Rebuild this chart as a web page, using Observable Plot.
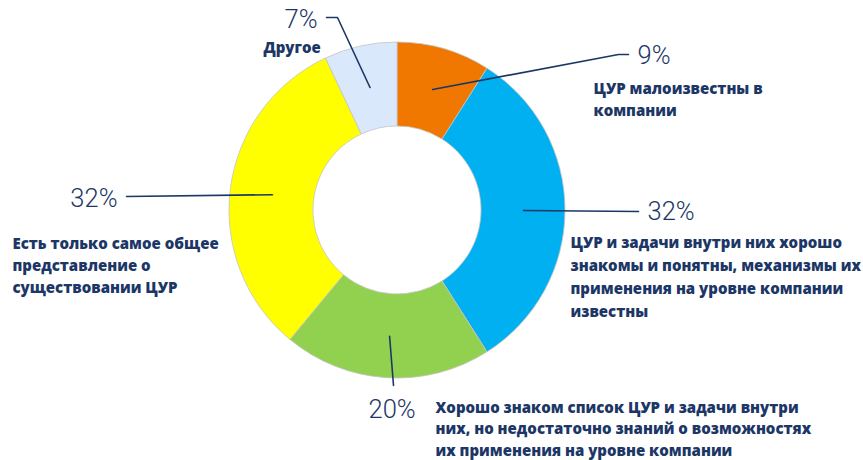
<!DOCTYPE html>
<html><head><meta charset="utf-8">
<script src="https://cdn.jsdelivr.net/npm/d3@7"></script>
<script src="https://cdn.jsdelivr.net/npm/@observablehq/plot@0.6"></script>
<style>html,body{margin:0;padding:0;background:#fff;}</style>
</head><body><div id="chart"></div>
<script>
// ---- data ----
const categories = [
  "ЦУР малоизвестны в\nкомпании",
  "ЦУР и задачи внутри них хорошо\nзнакомы и понятны, механизмы их\nприменения на уровне компании\nизвестны",
  "Хорошо знаком список ЦУР и задачи внутри\nних, но недостаточно знаний о возможностях\nих применения на уровне компании",
  "Есть только самое общее\nпредставление о\nсуществовании ЦУР",
  "Другое"
];
const values = [9, 32, 20, 32, 7];
const percentLabels = ["9%", "32%", "20%", "32%", "7%"];
const colors = ["#f07800", "#00b0f0", "#92d050", "#ffff00", "#dae8fc"];

// ---- layout ----
const W = 863, H = 460;
const center = [397, 210];
const outerR = 168, innerR = 84;
const navy = "#1c3766";
const leaderEnds = [
  [[618, 54], [628, 54]],
  [[638, 211]],
  [[393, 385]],
  [[126, 196]],
  [[337, 17], [326, 17]]
];
const pctPos = [
  {x: 637, y: 63, anchor: "start"},
  {x: 647, y: 219, anchor: "start"},
  {x: 368, y: 417, anchor: "start"},
  {x: 117, y: 206, anchor: "end"},
  {x: 317, y: 27, anchor: "end"}
];
const labelPos = [
  {x: 593, y: 93, lh: 22},
  {x: 570, y: 247, lh: 23},
  {x: 435, y: 412, lh: 21.5},
  {x: 12, y: 248, lh: 22},
  {x: 263, y: 52, lh: 22}
];

const table = categories.map((c, i) => ({category: c, value: values[i], pct: percentLabels[i], color: colors[i]}));
const arcs = d3.pie().sort(null).value(d => d.value)(table);
const arcGen = d3.arc().innerRadius(innerR).outerRadius(outerR);

const leaderRows = [];
arcs.forEach((a, i) => {
  const [dx, dy] = arcGen.centroid(a);
  leaderRows.push({i, x: center[0] + dx, y: center[1] + dy});
  leaderEnds[i].forEach(([x, y]) => leaderRows.push({i, x, y}));
});

const pctRows = table.map((d, i) => ({text: d.pct, ...pctPos[i]}));
const labelRows = [];
table.forEach((d, i) => {
  d.category.split("\n").forEach((line, j) => {
    labelRows.push({text: line, x: labelPos[i].x, y: labelPos[i].y + j * labelPos[i].lh});
  });
});

function donut(index, scales) {
  const cx = scales.x(center[0]), cy = scales.y(center[1]);
  const k = scales.x(1) - scales.x(0);
  const arc = d3.arc().innerRadius(innerR * k).outerRadius(outerR * k);
  const g = d3.create("svg:g").attr("transform", `translate(${cx},${cy})`);
  g.selectAll("path").data(arcs).join("path")
    .attr("d", arc)
    .attr("fill", d => d.data.color)
    .attr("stroke", "#c4c4c4")
    .attr("stroke-width", 0.8);
  return g.node();
}

const pctStyle = {fontFamily: "Roboto", fontWeight: 300, fontSize: 25.5, fill: navy};
const chart = Plot.plot({
  width: W, height: H, margin: 0,
  x: {domain: [0, W], range: [0, W], axis: null},
  y: {domain: [0, H], range: [0, H], axis: null},
  style: {background: "#fff"},
  marks: [
    donut,
    Plot.line(leaderRows, {x: "x", y: "y", z: "i", stroke: navy, strokeWidth: 1.6}),
    Plot.text(pctRows.filter(d => d.anchor === "start"), {x: "x", y: "y", text: "text", textAnchor: "start", lineAnchor: "bottom", ...pctStyle}),
    Plot.text(pctRows.filter(d => d.anchor === "end"), {x: "x", y: "y", text: "text", textAnchor: "end", lineAnchor: "bottom", ...pctStyle}),
    Plot.text(labelRows, {x: "x", y: "y", text: "text", textAnchor: "start", lineAnchor: "bottom", fontFamily: "Open Sans", fontWeight: 800, fontSize: 15, fill: navy})
  ]
});
document.getElementById("chart").appendChild(chart);
</script>
</body></html>
